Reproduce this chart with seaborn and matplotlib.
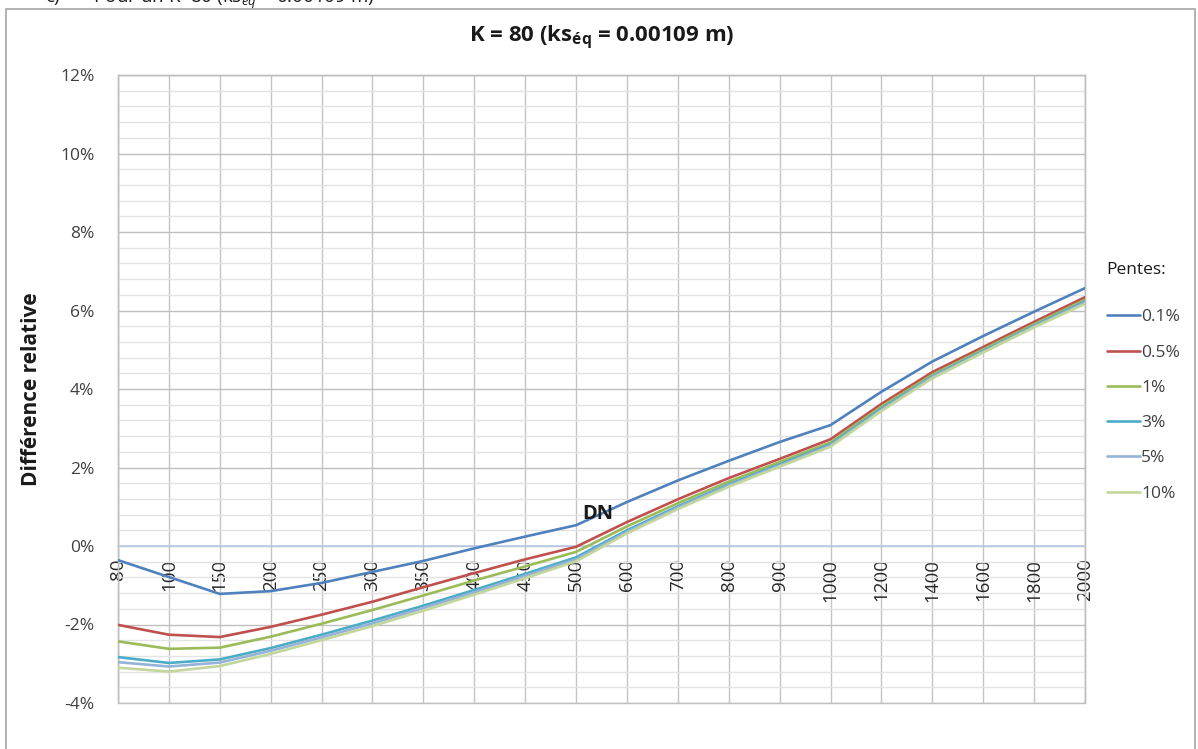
import matplotlib
matplotlib.use("Agg")
import matplotlib.pyplot as plt
import numpy as np
import pandas as pd
import seaborn as sns
from matplotlib.ticker import MultipleLocator, FuncFormatter
from matplotlib.patches import Rectangle

# Diamètres nominaux (DN, mm)
diametres = [80, 100, 150, 200, 250, 300, 350, 400, 450, 500,
             600, 700, 800, 900, 1000, 1200, 1400, 1600, 1800, 2000]

# Différence relative (%) pour chaque pente
pente_0_1 = [-0.36, -0.79, -1.22, -1.15, -0.94, -0.66, -0.38, -0.06, 0.24, 0.53,
             1.12, 1.67, 2.17, 2.65, 3.08, 3.93, 4.70, 5.35, 5.97, 6.57]
pente_0_5 = [-2.01, -2.26, -2.32, -2.06, -1.75, -1.42, -1.05, -0.69, -0.34, -0.02,
             0.61, 1.19, 1.73, 2.22, 2.72, 3.62, 4.43, 5.07, 5.71, 6.34]
pente_1 = [-2.43, -2.62, -2.59, -2.31, -1.98, -1.63, -1.26, -0.88, -0.52, -0.15,
           0.50, 1.09, 1.64, 2.14, 2.64, 3.55, 4.36, 5.01, 5.65, 6.27]
pente_3 = [-2.83, -2.98, -2.89, -2.60, -2.26, -1.90, -1.52, -1.12, -0.71, -0.29,
           0.40, 1.01, 1.57, 2.08, 2.59, 3.50, 4.32, 4.97, 5.61, 6.23]
pente_5 = [-2.96, -3.07, -2.97, -2.67, -2.33, -1.97, -1.58, -1.18, -0.76, -0.34,
           0.36, 0.98, 1.54, 2.05, 2.56, 3.47, 4.30, 4.95, 5.59, 6.20]
pente_10 = [-3.10, -3.20, -3.06, -2.75, -2.40, -2.04, -1.65, -1.24, -0.82, -0.39,
            0.32, 0.94, 1.51, 2.02, 2.53, 3.44, 4.27, 4.93, 5.57, 6.17]

pentes = ["0.1%", "0.5%", "1%", "3%", "5%", "10%"]
series = [pente_0_1, pente_0_5, pente_1, pente_3, pente_5, pente_10]
couleurs = ["#4F81BD", "#C0504D", "#9BBB59", "#4BACC6", "#95B3D7", "#C3D69B"]

df = pd.DataFrame({
    "DN": [str(d) for d in diametres] * len(pentes),
    "Diff": np.concatenate(series),
    "Pente": np.repeat(pentes, len(diametres)),
})

sns.set_theme(style="white")
plt.rcParams["font.family"] = ["Open Sans", "DejaVu Sans"]
plt.rcParams["mathtext.fontset"] = "custom"
plt.rcParams["mathtext.rm"] = "Open Sans"
plt.rcParams["mathtext.bf"] = "Open Sans:bold"
plt.rcParams["mathtext.it"] = "Open Sans:italic"

W, H = 1198, 749
fig = plt.figure(figsize=(W / 100, H / 100), dpi=100)
ax = fig.add_axes([118 / W, 1 - 703 / H, (1085 - 118) / W, (703 - 75) / H])

sns.lineplot(data=df, x="DN", y="Diff", hue="Pente", hue_order=pentes,
             palette=couleurs, linewidth=1.9, sort=False, legend=False,
             ax=ax, zorder=3)

ax.set_xlim(0, len(diametres) - 1)
ax.set_ylim(-4, 12)
ax.yaxis.set_major_locator(MultipleLocator(2))
ax.yaxis.set_minor_locator(MultipleLocator(0.4))
ax.yaxis.set_major_formatter(FuncFormatter(lambda v, _: f"{v:.0f}%"))
ax.set_xticks(range(len(diametres)))
ax.set_xticklabels([str(d) for d in diametres])

# Quadrillage
ax.grid(which="major", axis="y", color="#BFBFBF", lw=1.0, zorder=0)
ax.grid(which="minor", axis="y", color="#E3E3E3", lw=1.0, zorder=0)
ax.grid(which="major", axis="x", color="#C4C4C4", lw=1.0, zorder=0)
ax.set_axisbelow(True)

# Axe horizontal placé à 0 %
for s in ("top", "left", "right"):
    ax.spines[s].set_color("#BFBFBF")
    ax.spines[s].set_linewidth(1.0)
ax.spines["bottom"].set_position(("data", 0))
ax.spines["bottom"].set_color("#B8CCE4")
ax.spines["bottom"].set_linewidth(1.2)
ax.add_patch(Rectangle((0, 0), 1, 1, transform=ax.transAxes, fill=False,
                       ec="#BFBFBF", lw=1.0, clip_on=False, zorder=0.5))

ax.tick_params(axis="x", length=0, pad=9, labelrotation=90, labelsize=13.5,
               labelcolor="#262626")
ax.tick_params(axis="y", which="both", length=0, pad=17, labelsize=12.5,
               labelcolor="#404040")
ax.set_xlabel("")
ax.set_ylabel("Différence relative", fontsize=15, fontweight="bold",
              color="#1a1a1a")
ax.yaxis.set_label_coords((42 - 118) / (1085 - 118), 0.5)

ax.text(9.43, 0.81, "DN", fontsize=14.5, fontweight="bold", color="#1a1a1a",
        ha="center", va="center", zorder=4)

# Titre
fig.text(602 / W, 1 - 38 / H, r"K = 80 (ks$_{\mathbf{éq}}$ = 0.00109 m)",
         fontsize=16, fontweight="bold", color="#1a1a1a",
         ha="center", va="center")

# Légende
handles = ax.lines[:len(pentes)]
leg = fig.legend(handles, pentes, title="Pentes:", loc="upper left",
                 bbox_to_anchor=(1091 / W, 1 - 246 / H), frameon=False,
                 fontsize=12.5, title_fontsize=12.5, handlelength=1.9,
                 handletextpad=0.1, labelspacing=1.1)
leg._legend_box.align = "left"
leg._legend_box.sep += 9
for t in leg.get_texts():
    t.set_color("#404040")
leg.get_title().set_color("#1a1a1a")

# Cadre du graphique et en-tête de section
fig.patches.append(Rectangle((6 / W, -0.05), (1195 - 6) / W, 1.05 - 9 / H,
                             transform=fig.transFigure, fill=False,
                             ec="#A6A6A6", lw=1.2))
fig.text(45 / W, 1 - 3 / H, "c)       Pour un K=80 (ks$_{éq}$ = 0.00109 m)",
         fontsize=13.5, color="#1a1a1a", ha="left", va="baseline")

fig.savefig("out.png", dpi=100)
